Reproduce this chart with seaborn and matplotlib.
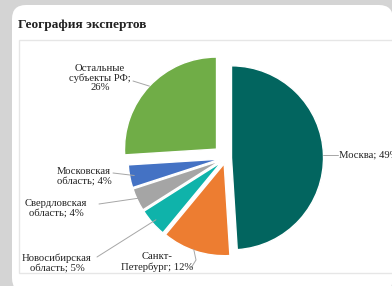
import matplotlib
matplotlib.use("Agg")
import matplotlib.pyplot as plt
import seaborn as sns
import numpy as np
from matplotlib.patches import FancyBboxPatch, Rectangle

sns.set_theme(style="white")
plt.rcParams['font.family'] = ['Liberation Serif', 'DejaVu Serif']

title = "География экспертов"
categories = ["Москва", "Санкт-\nПетербург", "Новосибирская\nобласть", "Свердловская\nобласть",
              "Московская\nобласть", "Остальные\nсубъекты РФ;\n"]
values = [49, 12, 5, 4, 4, 26]
colors = ["#02655f", "#ed7d31", "#0fb3aa", "#a5a5a5", "#4472c4", "#70ad47"]

W, H = 392, 286
R = 92
explode = [5.5 / R, 6 / R, 6 / R, 6 / R, 6 / R, 13 / R]

fig = plt.figure(figsize=(W / 100, H / 100), dpi=100)
fig.patch.set_facecolor("#d4d4d4")
ax = fig.add_axes([0, 0, 1, 1])

def Y(y):
    return H - y

# card
ax.add_patch(FancyBboxPatch((12, Y(292)), 381, 287, boxstyle="round,pad=0,rounding_size=14",
                            facecolor="white", edgecolor="none", zorder=0))
ax.add_patch(Rectangle((19, Y(273)), 400, 233, facecolor="white", edgecolor="#e6e6e6",
                       linewidth=1, zorder=0.5))
ax.text(18, Y(25), title, fontsize=9.6, fontweight="bold", color="#222222", va="center", ha="left")

cx, cy = 226, Y(158)
wedges, _ = ax.pie(values, colors=colors, explode=[e * R for e in explode], startangle=90,
                   counterclock=False, radius=R, center=(cx, cy), frame=True,
                   wedgeprops=dict(edgecolor="white", linewidth=1.0))
ax.set_xlim(0, W)
ax.set_ylim(0, H)
ax.set_aspect("equal")
ax.axis("off")

fs = 7.7
tc = "#222222"
lc = "#a6a6a6"

def edge_point(i, frac=1.0):
    w = wedges[i]
    ang = np.deg2rad((w.theta1 + w.theta2) / 2)
    c = w.center
    return c[0] + w.r * frac * np.cos(ang), c[1] + w.r * frac * np.sin(ang)

labels = [f"{c}; {v}%" if i < 5 else f"{c}{v}%" for i, (c, v) in enumerate(zip(categories, values))]

# Москва
p = edge_point(0)
ax.plot([p[0], 338], [p[1], p[1]], color=lc, lw=0.7)
ax.text(339, p[1], labels[0], fontsize=fs, color=tc, ha="left", va="center")
# СПб
p = edge_point(1)
ax.plot([p[0] - 2, 196, 191], [p[1] + 2, Y(260), Y(268)], color=lc, lw=0.7)
ax.text(157, Y(262), labels[1], fontsize=fs, color=tc, ha="center", va="center", linespacing=1.1)
# Новосибирская
p = edge_point(2, 0.95)
ax.plot([p[0], 97], [p[1], Y(257)], color=lc, lw=0.7)
ax.text(57, Y(263), labels[2], fontsize=fs, color=tc, ha="center", va="center", linespacing=1.1)
# Свердловская
p = edge_point(3, 0.95)
ax.plot([p[0], 99], [p[1], Y(204)], color=lc, lw=0.7)
ax.text(56, Y(208), labels[3], fontsize=fs, color=tc, ha="center", va="center", linespacing=1.1)
# Московская обл
p = edge_point(4, 0.95)
ax.plot([p[0], 113], [p[1], Y(173)], color=lc, lw=0.7)
ax.text(84, Y(176), labels[4], fontsize=fs, color=tc, ha="center", va="center", linespacing=1.1)
# Остальные
p = edge_point(5, 1.0)
ax.plot([133, p[0]], [Y(81), p[1]], color=lc, lw=0.7)
ax.text(100, Y(78), labels[5], fontsize=fs, color=tc, ha="center", va="center", linespacing=1.1)

fig.savefig("out.png", dpi=100, facecolor=fig.get_facecolor())
